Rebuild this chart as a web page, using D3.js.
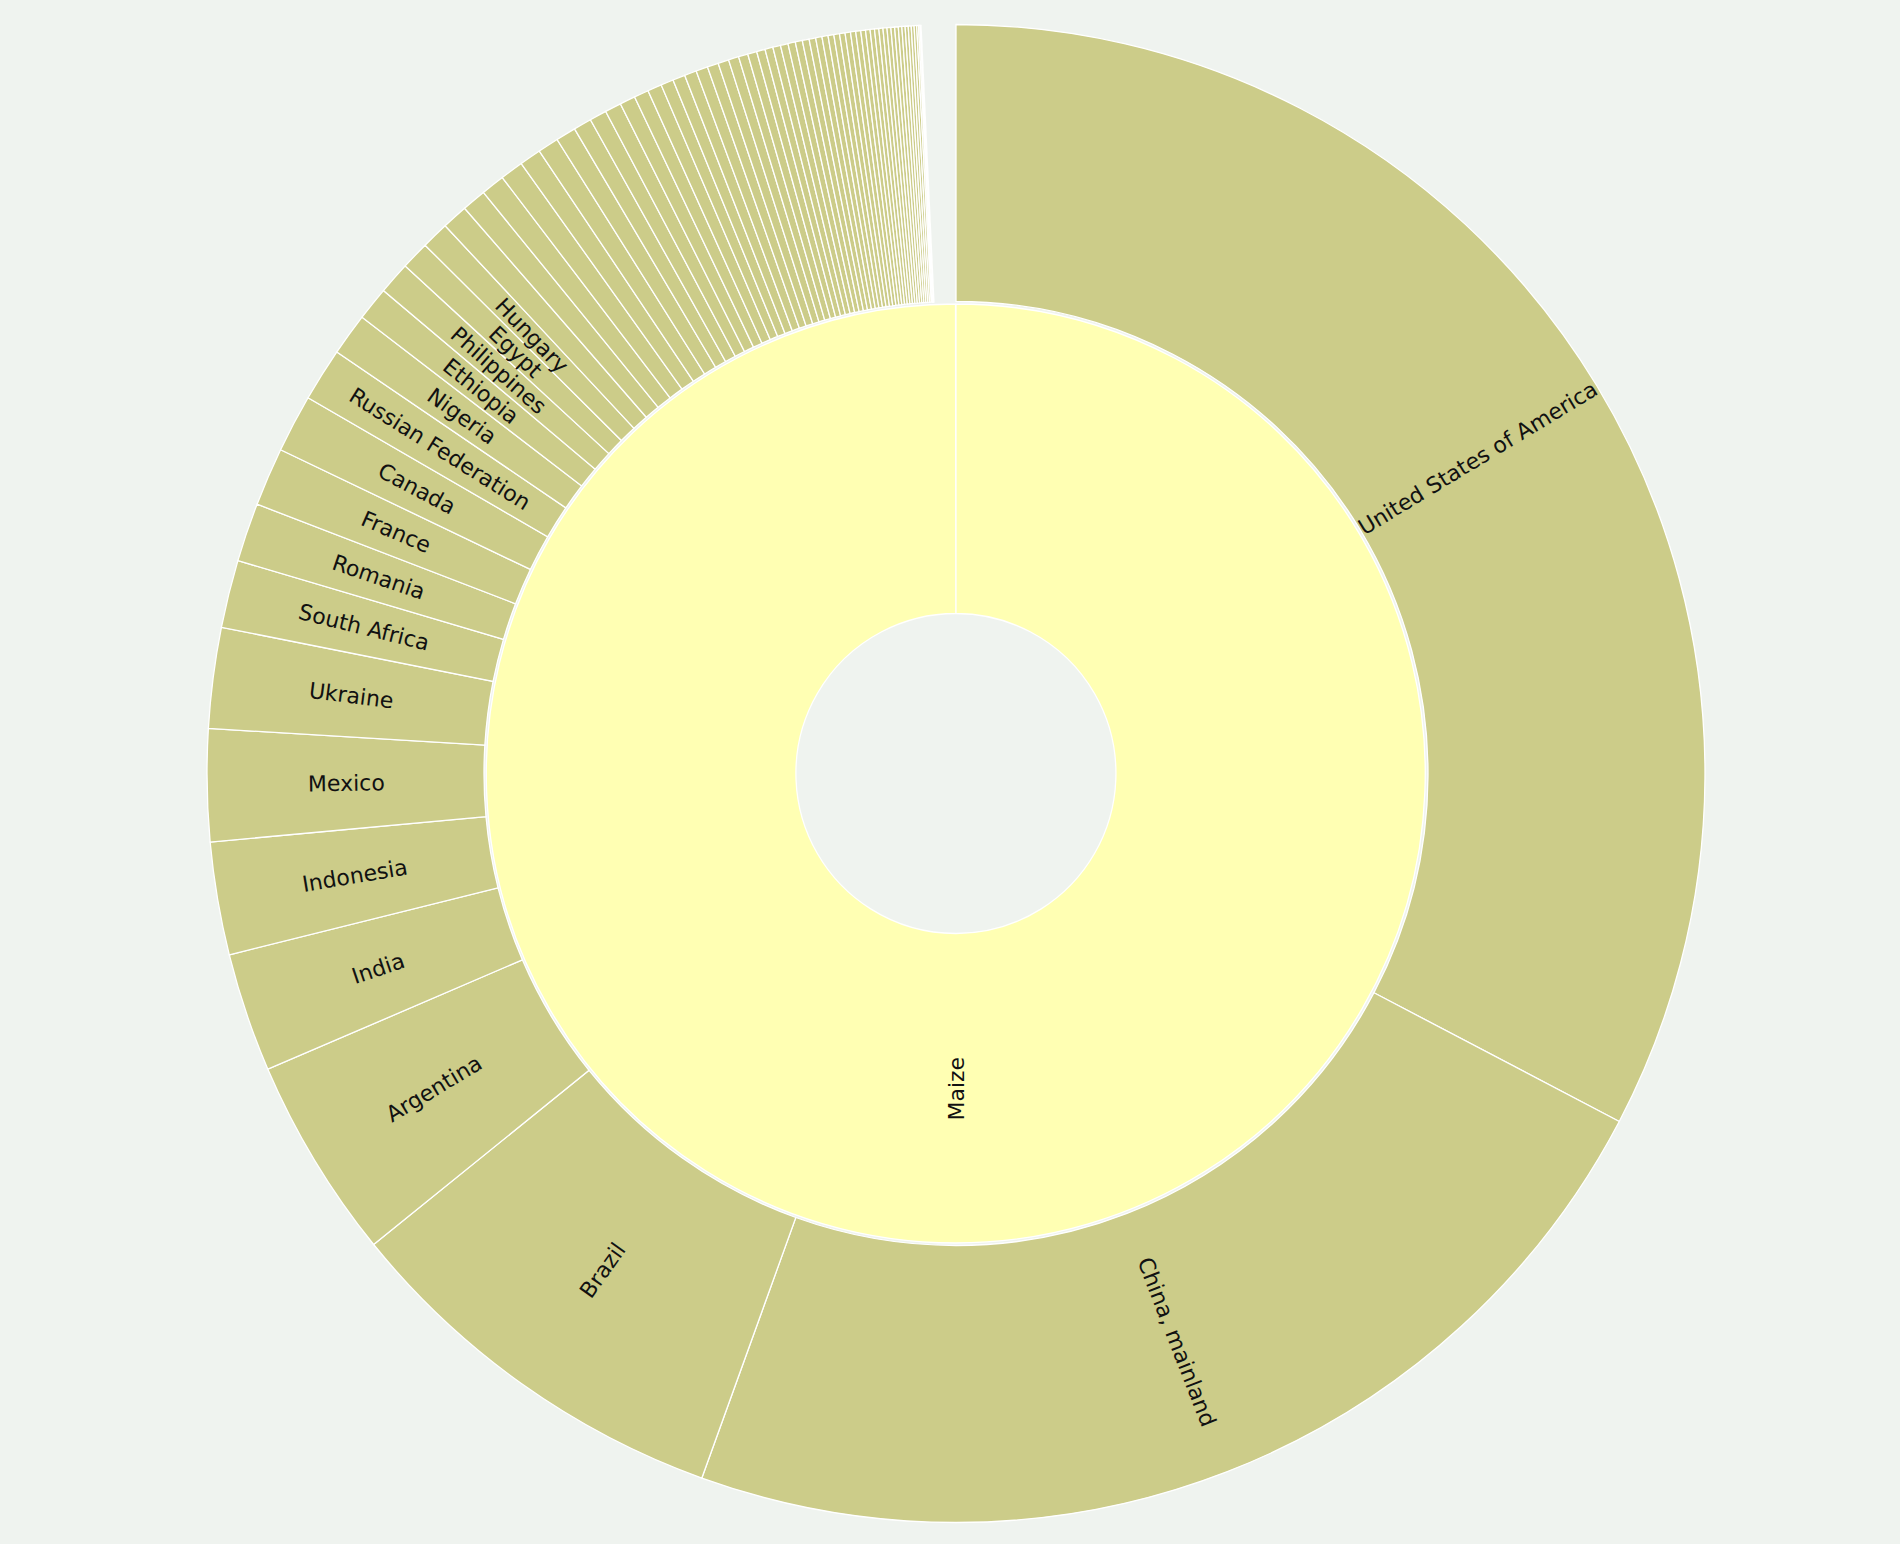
<!DOCTYPE html>
<html>
<head>
<meta charset="utf-8">
<script src="https://cdn.jsdelivr.net/npm/d3@7"></script>
<style>
  html, body { margin: 0; padding: 0; background: #eff3ef; }
  svg { display: block; }
</style>
</head>
<body>
<script>
// ---- DATA (million tonnes) ----
const cropName = "Maize";
const categories = [
  "United States of America", "China, mainland", "Brazil", "Argentina", "India",
  "Indonesia", "Mexico", "Ukraine", "South Africa", "Romania", "France", "Canada",
  "Russian Federation", "Nigeria", "Ethiopia", "Philippines", "Egypt", "Hungary",
  "Tanzania", "Pakistan", "Serbia", "Italy", "Turkey", "Paraguay", "Viet Nam",
  "Thailand", "Kenya", "Spain", "Germany", "Poland", "Malawi", "Zambia", "Mali",
  "Bulgaria", "Austria", "Uganda", "Iran", "Nepal", "Ghana", "Peru", "Colombia",
  "Zimbabwe", "Mozambique", "Cameroon", "Croatia", "Angola", "Myanmar", "Bolivia",
  "Lao PDR", "Burkina Faso", "Guatemala", "Venezuela", "Greece", "Slovakia",
  "Moldova", "Benin", "Côte d'Ivoire", "Cambodia", "Bangladesh", "Ecuador",
  "Kazakhstan", "Belarus", "Chile", "Togo", "Afghanistan", "Sri Lanka", "Madagascar",
  "Uzbekistan", "Czechia", "Portugal", "Nicaragua", "Honduras", "El Salvador",
  "Rwanda"
];
const values = [
  369.3, 257.8, 97.9, 49.3, 29.0,
  27.5, 27.3, 24.5, 16.5, 14.3, 14.25, 14.1,
  13.0, 10.3, 8.2, 7.9, 6.9, 6.7,
  6.28, 5.90, 5.78, 5.65, 5.28, 5.09, 4.90,
  4.40, 4.18, 3.96, 3.80, 3.55, 3.45, 3.08, 3.01,
  2.95, 2.89, 2.70, 2.64, 2.51, 2.29, 2.23, 2.07,
  1.95, 1.88, 1.85, 1.79, 1.73, 1.66, 1.60,
  1.54, 1.48, 1.41, 1.38, 1.35, 1.32,
  1.26, 1.22, 1.16, 1.10, 1.07, 1.04,
  1.00, 0.97, 0.94, 0.91, 0.88, 0.85, 0.79,
  0.75, 0.72, 0.69, 0.63, 0.44, 0.35,
  0.25
];
// production of the many very small producers (not drawn as separate slices)
const otherProducers = 8.4;

// ---- CHART ----
const width = 1900, height = 1544;
const cx = 956, cy = 773.5;

const svg = d3.select("body").append("svg")
  .attr("width", width).attr("height", height)
  .style("background", "#eff3ef");

const data = {
  name: "root",
  children: [{
    name: cropName,
    value: otherProducers,
    children: categories.map((c, i) => ({ name: c, value: values[i] }))
  }]
};

const root = d3.hierarchy(data)
  .sum(d => d.value || 0)
  .sort((a, b) => b.value - a.value);

d3.partition().size([2 * Math.PI, 3])(root);

const radius = d3.scaleLinear().domain([1, 2, 3]).range([160, 470.5, 749]);

const arc = d3.arc()
  .startAngle(d => d.x0)
  .endAngle(d => d.depth === 1 ? d.x1 - 0.001 : d.x1)
  .innerRadius(d => radius(d.y0) + (d.depth === 2 ? 1.5 : 0))
  .outerRadius(d => radius(d.y1) - (d.depth === 1 ? 1 : 0));

const g = svg.append("g").attr("transform", `translate(${cx},${cy})`);

const nodes = root.descendants().filter(d => d.depth > 0 && (d.x1 - d.x0) > 0.0003);

g.append("g").selectAll("path")
  .data(nodes)
  .join("path")
  .attr("d", arc)
  .attr("fill", d => d.depth === 1 ? "#ffffb3" : "#cccc89")
  .attr("stroke", "#ffffff")
  .attr("stroke-width", 1.3);

const labelNodes = nodes.filter(d => (d.x1 - d.x0) * 180 / Math.PI > 2.05);

g.append("g")
  .attr("text-anchor", "middle")
  .style("font-family", "'DejaVu Sans', sans-serif")
  .style("font-size", "22px")
  .attr("fill", "#111")
  .selectAll("text")
  .data(labelNodes)
  .join("text")
  .attr("transform", d => {
    const x = (d.x0 + d.x1) / 2 * 180 / Math.PI;
    const y = (radius(d.y0) + radius(d.y1)) / 2;
    return `rotate(${x - 90}) translate(${y},0) rotate(${x < 180 ? 0 : 180})`;
  })
  .attr("dy", "0.35em")
  .text(d => d.data.name);
</script>
</body>
</html>
